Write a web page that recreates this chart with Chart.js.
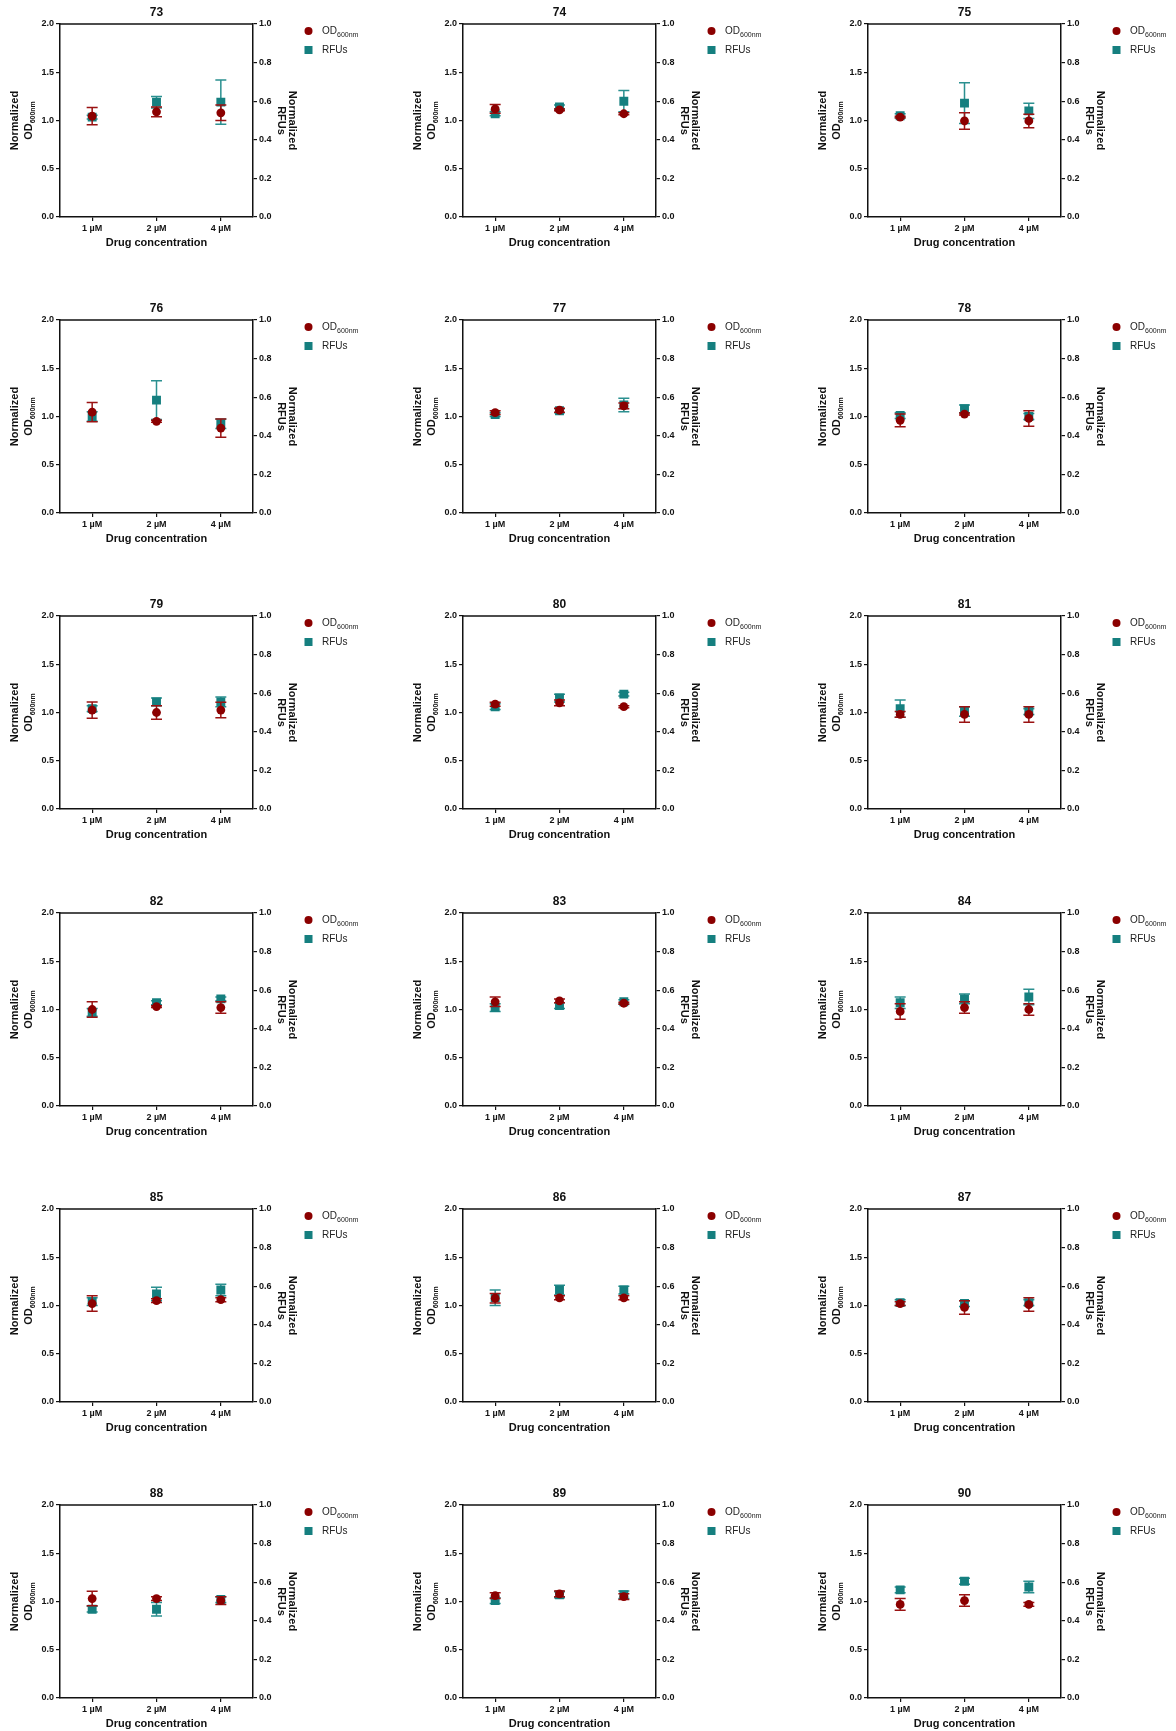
<!DOCTYPE html>
<html>
<head>
<meta charset="utf-8">
<script src="https://cdn.jsdelivr.net/npm/chart.js@4.4.0/dist/chart.umd.min.js"></script>
<style>
  body { margin: 0; background: #fff; width: 1176px; height: 1731px; position: relative; overflow: hidden; }
  .panel { position: absolute; width: 400px; height: 296px; }
</style>
</head>
<body>
<script>
// one panel per compound, laid out 3 per row
var panelNames = ['73', '74', '75', '76', '77', '78', '79', '80', '81',
                  '82', '83', '84', '85', '86', '87', '88', '89', '90'];
var concentrations = ['1 µM', '2 µM', '4 µM'];
var leftTicks = ['0.0', '0.5', '1.0', '1.5', '2.0'];
var rightTicks = ['0.0', '0.2', '0.4', '0.6', '0.8', '1.0'];
var seriesLabels = ['OD', 'RFUs'];
var seriesSubs = ['600nm', ''];

// normalized OD600nm, mean and error, per panel
var odMean = [
  [1.045, 1.09, 1.08], [1.12, 1.11, 1.07], [1.035, 0.995, 0.995],
  [1.045, 0.95, 0.88], [1.04, 1.065, 1.11], [0.96, 1.025, 0.98],
  [1.025, 1.0, 1.025], [1.086, 1.10, 1.06], [0.98, 0.98, 0.98],
  [1.0, 1.03, 1.02], [1.08, 1.09, 1.065], [0.98, 1.02, 1.0],
  [1.02, 1.05, 1.06], [1.075, 1.08, 1.08], [1.02, 0.98, 1.01],
  [1.03, 1.03, 1.01], [1.06, 1.08, 1.05], [0.97, 1.01, 0.97]
];
var odErr = [
  [0.09, 0.05, 0.08], [0.045, 0.01, 0.01], [0.01, 0.085, 0.07],
  [0.1, 0.01, 0.095], [0.02, 0.02, 0.03], [0.065, 0.01, 0.08],
  [0.085, 0.07, 0.08], [0.02, 0.03, 0.01], [0.03, 0.08, 0.08],
  [0.08, 0.01, 0.06], [0.05, 0.02, 0.01], [0.08, 0.06, 0.06],
  [0.08, 0.02, 0.02], [0.05, 0.02, 0.02], [0.02, 0.07, 0.07],
  [0.075, 0.02, 0.04], [0.03, 0.03, 0.03], [0.06, 0.06, 0.02]
];
// normalized RFUs, mean and error, per panel
var rfuMean = [
  [1.035, 1.19, 1.19], [1.07, 1.14, 1.2], [1.05, 1.18, 1.10],
  [1.0, 1.17, 0.925], [1.02, 1.06, 1.12], [1.01, 1.08, 1.0],
  [1.04, 1.11, 1.11], [1.06, 1.15, 1.19], [1.04, 1.01, 1.01],
  [0.97, 1.07, 1.11], [1.02, 1.04, 1.08], [1.07, 1.11, 1.13],
  [1.04, 1.12, 1.16], [1.08, 1.16, 1.16], [1.03, 1.02, 1.03],
  [0.92, 0.92, 1.02], [1.01, 1.07, 1.07], [1.12, 1.21, 1.15]
];
var rfuErr = [
  [0.02, 0.06, 0.23], [0.02, 0.02, 0.11], [0.02, 0.21, 0.08],
  [0.05, 0.2, 0.05], [0.02, 0.02, 0.07], [0.03, 0.04, 0.03],
  [0.03, 0.04, 0.05], [0.03, 0.04, 0.02], [0.09, 0.05, 0.03],
  [0.04, 0.02, 0.02], [0.04, 0.03, 0.02], [0.06, 0.05, 0.08],
  [0.04, 0.07, 0.06], [0.08, 0.05, 0.04], [0.03, 0.03, 0.03],
  [0.03, 0.07, 0.03], [0.03, 0.03, 0.04], [0.03, 0.03, 0.06]
];

var red = '#8b0000';
var redBar = '#9a1212';
var teal = '#157f7f';
var tealBar = '#2b9090';
var ink = '#111';
var fontFamily = '"Liberation Sans", Arial, Helvetica, sans-serif';

var colLeft = [0, 403, 808];
var rowStep = 296.2;

// error bars, drawn right before each dataset so red sits over teal
var errorBars = {
  id: 'errorBars',
  beforeDatasetDraw: function (chart, args) {
    var ds = chart.data.datasets[args.index];
    var meta = chart.getDatasetMeta(args.index);
    var scale = chart.scales[ds.yAxisID];
    var ctx = chart.ctx;
    ctx.save();
    ctx.strokeStyle = ds.barColor;
    ctx.lineWidth = 1.5;
    meta.data.forEach(function (pt, j) {
      var top = scale.getPixelForValue(ds.data[j] + ds.errors[j]);
      var bot = scale.getPixelForValue(ds.data[j] - ds.errors[j]);
      ctx.beginPath();
      ctx.moveTo(pt.x, top); ctx.lineTo(pt.x, bot);
      ctx.moveTo(pt.x - 5.5, top); ctx.lineTo(pt.x + 5.5, top);
      ctx.moveTo(pt.x - 5.5, bot); ctx.lineTo(pt.x + 5.5, bot);
      ctx.stroke();
    });
    ctx.restore();
  }
};

function textWithSub(ctx, main, sub, x, y, mainFont, subFont, subDrop) {
  ctx.font = mainFont;
  var w1 = ctx.measureText(main).width;
  ctx.font = subFont;
  var w2 = sub ? ctx.measureText(sub).width : 0;
  var start = x - (w1 + w2) / 2;
  ctx.textAlign = 'left';
  ctx.font = mainFont;
  ctx.fillText(main, start, y);
  if (sub) {
    ctx.font = subFont;
    ctx.fillText(sub, start + w1, y + subDrop);
  }
}

// titles, axis titles, top frame line and legend
var panelText = {
  id: 'panelText',
  afterDraw: function (chart) {
    var a = chart.chartArea;
    var ctx = chart.ctx;
    var cx = (a.left + a.right) / 2;
    var cy = (a.top + a.bottom) / 2;
    ctx.save();
    ctx.strokeStyle = ink;
    ctx.lineWidth = 1.5;
    ctx.beginPath();
    ctx.moveTo(a.left, a.top); ctx.lineTo(a.right, a.top);
    ctx.stroke();

    ctx.fillStyle = ink;
    ctx.textBaseline = 'middle';
    ctx.textAlign = 'center';
    ctx.font = 'bold 12px ' + fontFamily;
    ctx.fillText(chart.options.panelName, cx, 13);
    ctx.font = 'bold 11px ' + fontFamily;
    ctx.fillText('Drug concentration', cx, 243);

    // left axis title
    ctx.save();
    ctx.translate(14.5, cy);
    ctx.rotate(-Math.PI / 2);
    ctx.font = 'bold 11px ' + fontFamily;
    ctx.fillText('Normalized', 0, 0);
    ctx.restore();
    ctx.save();
    ctx.translate(29, cy);
    ctx.rotate(-Math.PI / 2);
    textWithSub(ctx, 'OD', '600nm', 0, 0, 'bold 11px ' + fontFamily, 'bold 7px ' + fontFamily, 4);
    ctx.restore();

    // right axis title
    ctx.save();
    ctx.translate(292.5, cy);
    ctx.rotate(Math.PI / 2);
    ctx.textAlign = 'center';
    ctx.font = 'bold 11px ' + fontFamily;
    ctx.fillText('Normalized', 0, 0);
    ctx.restore();
    ctx.save();
    ctx.translate(281, cy);
    ctx.rotate(Math.PI / 2);
    ctx.textAlign = 'center';
    ctx.font = 'bold 11px ' + fontFamily;
    ctx.fillText('RFUs', 0, 0);
    ctx.restore();

    // legend
    chart.data.datasets.forEach(function (ds, i) {
      var ly = 31 + 19 * i;
      ctx.fillStyle = ds.pointBackgroundColor;
      if (ds.pointStyle === 'circle') {
        ctx.beginPath();
        ctx.arc(308.5, ly, 4, 0, Math.PI * 2);
        ctx.fill();
      } else {
        ctx.fillRect(304.5, ly - 4, 8, 8);
      }
      ctx.fillStyle = '#222';
      ctx.font = '10px ' + fontFamily;
      var w = ctx.measureText(seriesLabels[i]).width;
      ctx.textAlign = 'left';
      ctx.fillText(seriesLabels[i], 322, ly);
      if (seriesSubs[i]) {
        ctx.font = '7px ' + fontFamily;
        ctx.fillText(seriesSubs[i], 322 + w, ly + 4);
      }
    });
    ctx.restore();
  }
};

function axisStyle() {
  return {
    grid: { drawOnChartArea: false, drawTicks: true, tickLength: 4, color: ink, lineWidth: 1.2 },
    border: { display: true, color: ink, width: 1.5 },
    ticks: { color: ink, padding: 2, font: { family: fontFamily, size: 9, weight: 'bold' } }
  };
}

panelNames.forEach(function (name, p) {
  var row = Math.floor(p / 3), col = p % 3;
  var box = document.createElement('div');
  box.className = 'panel';
  box.style.left = colLeft[col] + 'px';
  box.style.top = Math.round(row * rowStep) + 'px';
  var canvas = document.createElement('canvas');
  canvas.width = 400;
  canvas.height = 296;
  box.appendChild(canvas);
  document.body.appendChild(box);

  var x = axisStyle();
  x.offset = true;
  x.afterFit = function (s) { s.height = 79; };

  var y = axisStyle();
  y.position = 'left';
  y.min = 0; y.max = 2;
  y.ticks.stepSize = 0.5;
  y.ticks.callback = function (v, i) { return leftTicks[i]; };
  y.afterFit = function (s) { s.width = 60; };

  var y1 = axisStyle();
  y1.position = 'right';
  y1.min = 0; y1.max = 1;
  y1.ticks.stepSize = 0.2;
  y1.ticks.callback = function (v, i) { return rightTicks[i]; };
  y1.afterFit = function (s) { s.width = 40; };

  new Chart(canvas, {
    type: 'line',
    data: {
      labels: concentrations,
      datasets: [{
        label: 'OD600nm',
        data: odMean[p],
        errors: odErr[p],
        barColor: redBar,
        yAxisID: 'y',
        showLine: false,
        pointStyle: 'circle',
        pointRadius: 4.4,
        pointBorderWidth: 0,
        pointBackgroundColor: red,
        pointBorderColor: red
      }, {
        label: 'RFUs',
        data: rfuMean[p],
        errors: rfuErr[p],
        barColor: tealBar,
        yAxisID: 'y',
        showLine: false,
        pointStyle: 'rect',
        pointRadius: 6.3,
        pointBorderWidth: 0,
        pointBackgroundColor: teal,
        pointBorderColor: teal
      }]
    },
    options: {
      panelName: name,
      responsive: false,
      animation: false,
      devicePixelRatio: 1,
      layout: { padding: { left: 0, top: 24, right: 107, bottom: 0 } },
      plugins: { legend: { display: false }, title: { display: false }, tooltip: { enabled: false } },
      scales: { x: x, y: y, y1: y1 }
    },
    plugins: [errorBars, panelText]
  });
});
</script>
</body>
</html>
